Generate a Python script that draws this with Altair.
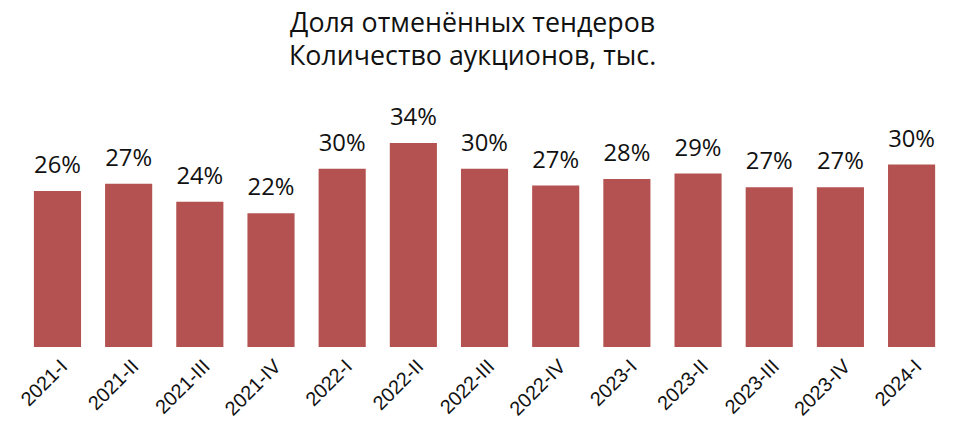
import altair as alt
import pandas as pd

quarters = ["2021-I", "2021-II", "2021-III", "2021-IV", "2022-I", "2022-II", "2022-III",
            "2022-IV", "2023-I", "2023-II", "2023-III", "2023-IV", "2024-I"]
shares = [26.0, 27.2, 24.2, 22.3, 29.7, 34.0, 29.7, 26.9, 28.0, 28.9, 26.6, 26.6, 30.4]
labels = ["26%", "27%", "24%", "22%", "30%", "34%", "30%", "27%", "28%", "29%", "27%", "27%", "30%"]

df = pd.DataFrame({"q": quarters, "v": shares, "lab": labels})

x = alt.X("q:N", sort=quarters, title=None,
          scale=alt.Scale(paddingInner=0.338, paddingOuter=0.169),
          axis=alt.Axis(labelAngle=-45, labelFont="Liberation Sans", labelFontSize=20,
                        labelColor="#111111", domain=False, ticks=False, labelPadding=9))
y = alt.Y("v:Q", scale=alt.Scale(domain=[0, 40]), axis=None)

bars = alt.Chart(df).mark_bar(color="#b35250").encode(x=x, y=y)
text = alt.Chart(df).mark_text(font="Open Sans", fontSize=24, color="#111111",
                               baseline="alphabetic", dy=-18).encode(x=x, y=y, text="lab:N")

chart = (bars + text).properties(
    width=933, height=242,
    padding={"left": 14, "top": 98, "right": 21, "bottom": 80},
    autosize=alt.AutoSizeParams(type="none"),
    title=alt.TitleParams(["Доля отменённых тендеров", "Количество аукционов, тыс."],
                          font="Open Sans", fontSize=27, fontWeight="normal", lineHeight=33,
                          color="#111111", anchor="middle", offset=36, dx=-12),
).configure_view(stroke=None)

chart.save("out.html", embed_options={"renderer": "svg", "actions": False})
